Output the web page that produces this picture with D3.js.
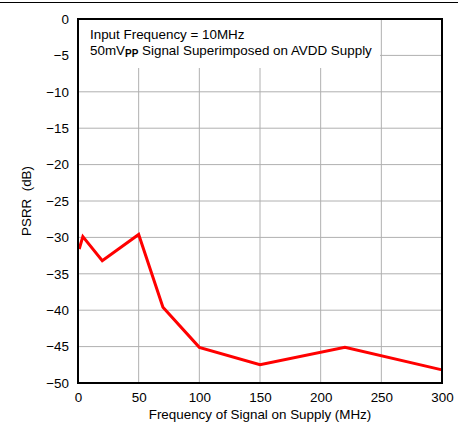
<!DOCTYPE html>
<html><head><meta charset="utf-8">
<script src="https://cdn.jsdelivr.net/npm/d3@7"></script>
<style>body{margin:0;background:#fff}svg{display:block;font-family:"Liberation Sans",Arial,sans-serif}</style>
</head><body>
<svg id="c" width="458" height="424"></svg>
<script>
const freq = [1, 4, 20, 50, 70, 100, 150, 220, 300];
const psrr = [-31.6, -29.9, -33.2, -29.6, -39.6, -45.1, -47.5, -45.1, -48.2];
const xTicks = [0, 50, 100, 150, 200, 250, 300];
const yTicks = [0, -5, -10, -15, -20, -25, -30, -35, -40, -45, -50];
const xTitle = "Frequency of Signal on Supply (MHz)";
const yTitle = "PSRR  (dB)";
const note1 = "Input Frequency = 10MHz";

const svg = d3.select("#c");
const L = 78, R = 442, T = 19, B = 383;
const x = d3.scaleLinear().domain([0, 300]).range([L, R]);
const y = d3.scaleLinear().domain([-50, 0]).range([B, T]);
const FS = 13.4;

svg.append("line").attr("x1", 0).attr("x2", 458).attr("y1", 2.5).attr("y2", 2.5)
  .attr("stroke", "#000").attr("stroke-width", 1);

// grid
svg.append("g").selectAll("line").data(xTicks.slice(1, -1)).join("line")
  .attr("x1", d => x(d)).attr("x2", d => x(d)).attr("y1", T).attr("y2", B)
  .attr("stroke", "#b0b0b0").attr("stroke-width", 1);
svg.append("g").selectAll("line").data(yTicks.slice(1, -1)).join("line")
  .attr("x1", L).attr("x2", R).attr("y1", d => y(d)).attr("y2", d => y(d))
  .attr("stroke", "#b0b0b0").attr("stroke-width", 1);

// note box background
svg.append("rect").attr("x", L).attr("y", T).attr("width", 302).attr("height", 49).attr("fill", "#fff");

// data line
svg.append("path").datum(freq.map((f, i) => [f, psrr[i]]))
  .attr("d", d3.line().x(d => x(d[0])).y(d => y(d[1])))
  .attr("fill", "none").attr("stroke", "#ff0000").attr("stroke-width", 3)
  .attr("stroke-linejoin", "miter");

// frame
svg.append("rect").attr("x", L).attr("y", T).attr("width", R - L).attr("height", B - T)
  .attr("fill", "none").attr("stroke", "#000").attr("stroke-width", 2);

// axes labels
const xa = svg.append("g").attr("transform", `translate(0,${B})`)
  .call(d3.axisBottom(x).tickValues(xTicks).tickSize(0).tickPadding(9).tickFormat(d3.format("d")));
xa.select(".domain").remove();
xa.selectAll("text").attr("font-size", FS).attr("fill", "#000").attr("font-family", "Liberation Sans, Arial, sans-serif");

const ya = svg.append("g").attr("transform", `translate(${L},0)`)
  .call(d3.axisLeft(y).tickValues(yTicks).tickSize(0).tickPadding(9).tickFormat(d => d === 0 ? "0" : "\u2212" + Math.abs(d)));
ya.select(".domain").remove();
ya.selectAll("text").attr("font-size", FS).attr("fill", "#000").attr("font-family", "Liberation Sans, Arial, sans-serif");

svg.append("text").attr("x", (L + R) / 2).attr("y", 419).attr("text-anchor", "middle")
  .attr("font-size", FS).text(xTitle);
svg.append("text").attr("transform", `translate(31,${(T + B) / 2}) rotate(-90)`).attr("text-anchor", "middle")
  .attr("font-size", FS).style("white-space", "pre").text(yTitle);

svg.append("text").attr("x", 90).attr("y", 39).attr("font-size", FS).text(note1);
const t2 = svg.append("text").attr("x", 90).attr("y", 55).attr("font-size", FS);
t2.append("tspan").text("50mV");
t2.append("tspan").attr("font-size", 10).attr("font-weight", "bold").attr("dy", 2).text("PP");
t2.append("tspan").attr("dy", -2).text(" Signal Superimposed on AVDD Supply");
</script>
</body></html>
